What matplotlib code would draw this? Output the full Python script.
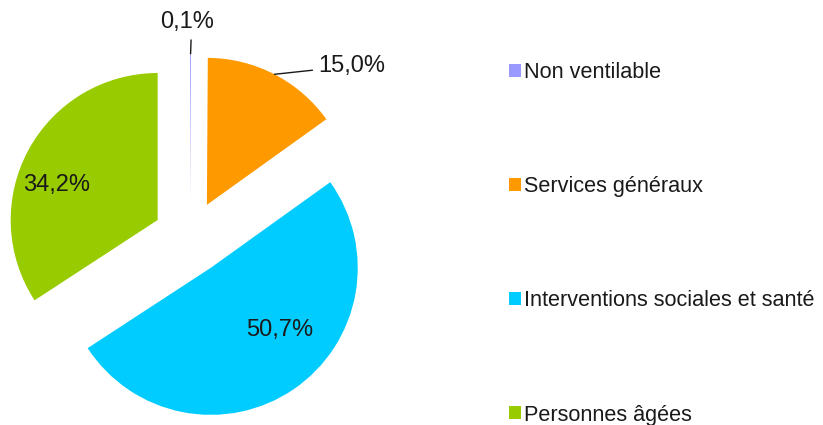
import numpy as np
import matplotlib
matplotlib.use('Agg')
import matplotlib.pyplot as plt

plt.rcParams['font.family'] = ['Liberation Sans', 'DejaVu Sans']

categories = ['Non ventilable', 'Services généraux',
              'Interventions sociales et santé', 'Personnes âgées']
values = [0.1, 15.0, 50.7, 34.2]
colors = ['#9999FF', '#FF9900', '#00CCFF', '#99CC00']

text_color = '#1a1a1a'
radius = 147


def fmt(v):
    return f'{v:.1f}'.replace('.', ',') + '%'


fig = plt.figure(figsize=(8.23, 4.25), dpi=100)
ax = fig.add_axes([0, 0, 1, 1])

# work in pixel-like units so the layout is easy to place
# (explode is an absolute offset in matplotlib, not a fraction of radius)
wedges, _ = ax.pie(values, colors=colors, startangle=90, counterclock=False,
                   explode=[0.25 * radius] * len(values), radius=radius,
                   center=(190, 187.5), frame=True,
                   wedgeprops=dict(linewidth=0))
ax.set_xlim(0, 823)
ax.set_ylim(0, 425)
ax.set_aspect('equal')
ax.axis('off')


def arc_point(w):
    mid = np.deg2rad((w.theta1 + w.theta2) / 2)
    cx, cy = w.center
    return cx + w.r * np.cos(mid), cy + w.r * np.sin(mid)


# small slices: labels outside with leader lines
ax.annotate(fmt(values[0]), xy=arc_point(wedges[0]), xytext=(187, 403),
            ha='center', va='center', fontsize=17, color=text_color,
            arrowprops=dict(arrowstyle='-', color=text_color, lw=1,
                            relpos=(0.58, 0), shrinkA=3, shrinkB=0))
ax.annotate(fmt(values[1]), xy=arc_point(wedges[1]), xytext=(318, 359),
            ha='left', va='center', fontsize=17, color=text_color,
            arrowprops=dict(arrowstyle='-', color=text_color, lw=1,
                            shrinkA=2, shrinkB=0))

# big slices: labels inside
ax.text(280, 95, fmt(values[2]), ha='center', va='center',
        fontsize=17, color=text_color)
ax.text(57, 240, fmt(values[3]), ha='center', va='center',
        fontsize=17, color=text_color)

fig.legend(wedges, categories, loc='upper left',
           bbox_to_anchor=(509 / 823, (425 - 62) / 425),
           frameon=False, fontsize=15.6, handlelength=0.55,
           handleheight=0.55, handletextpad=0.15, labelspacing=4.3,
           borderpad=0, borderaxespad=0, labelcolor=text_color)

fig.savefig('out.png', dpi=100)
